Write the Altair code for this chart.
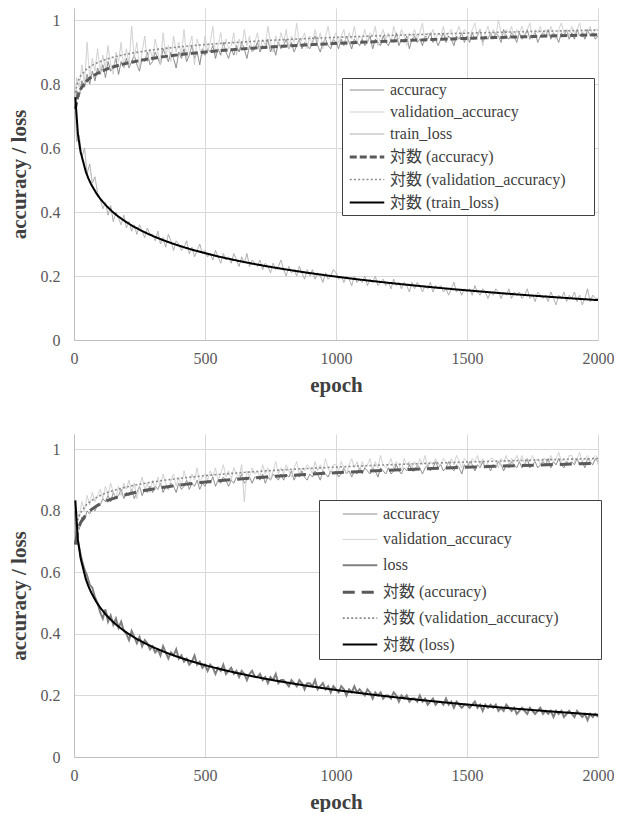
import altair as alt
import pandas as pd

# epochs (x positions of the sampled points)
epochs = [5] + list(range(10, 2001, 10))

# ---------------- top panel ----------------
acc_top = [
    0.73, 0.78, 0.76, 0.81, 0.79, 0.83, 0.80, 0.84, 0.81, 0.85,
    0.83, 0.86, 0.82, 0.87, 0.84, 0.85, 0.88, 0.83, 0.87, 0.85,
    0.88, 0.85, 0.87, 0.89, 0.86, 0.84, 0.88, 0.87, 0.90, 0.86,
    0.87, 0.90, 0.88, 0.86, 0.91, 0.89, 0.87, 0.90, 0.88, 0.85,
    0.90, 0.88, 0.91, 0.87, 0.89, 0.92, 0.88, 0.90, 0.86, 0.91,
    0.89, 0.91, 0.90, 0.92, 0.88, 0.91, 0.89, 0.93, 0.90, 0.88,
    0.91, 0.89, 0.92, 0.90, 0.93, 0.91, 0.88, 0.92, 0.90, 0.91,
    0.93, 0.90, 0.92, 0.91, 0.94, 0.90, 0.92, 0.89, 0.93, 0.91,
    0.92, 0.94, 0.91, 0.93, 0.90, 0.92, 0.94, 0.91, 0.93, 0.92,
    0.91, 0.93, 0.95, 0.92, 0.90, 0.93, 0.94, 0.92, 0.91, 0.94,
    0.93, 0.91, 0.94, 0.92, 0.95, 0.93, 0.91, 0.94, 0.93, 0.92,
    0.94, 0.92, 0.93, 0.95, 0.91, 0.94, 0.93, 0.92, 0.95, 0.93,
    0.92, 0.94, 0.93, 0.96, 0.92, 0.94, 0.93, 0.95, 0.91, 0.94,
    0.95, 0.93, 0.94, 0.92, 0.95, 0.94, 0.96, 0.93, 0.94, 0.92,
    0.94, 0.96, 0.93, 0.95, 0.94, 0.92, 0.95, 0.94, 0.96, 0.93,
    0.95, 0.93, 0.96, 0.94, 0.95, 0.97, 0.93, 0.95, 0.94, 0.96,
    0.94, 0.96, 0.95, 0.93, 0.97, 0.95, 0.94, 0.96, 0.95, 0.93,
    0.96, 0.94, 0.95, 0.97, 0.94, 0.95, 0.96, 0.93, 0.95, 0.96,
    0.95, 0.97, 0.94, 0.96, 0.95, 0.93, 0.96, 0.95, 0.97, 0.94,
    0.96, 0.94, 0.97, 0.95, 0.96, 0.94, 0.97, 0.95, 0.96, 0.94,
    0.95,
]
val_top = [
    0.76, 0.82, 0.79, 0.86, 0.80, 0.93, 0.82, 0.88, 0.84, 0.91,
    0.84, 0.89, 0.85, 0.92, 0.86, 0.83, 0.90, 0.87, 0.93, 0.85,
    0.91, 0.86, 0.98, 0.88, 0.93, 0.85, 0.90, 0.95, 0.87, 0.91,
    0.88, 0.94, 0.90, 0.86, 0.96, 0.89, 0.92, 0.87, 0.95, 0.90,
    0.93, 0.89, 0.97, 0.88, 0.92, 0.95, 0.86, 0.94, 0.91, 0.89,
    0.95, 0.90, 0.93, 0.98, 0.89, 0.92, 0.96, 0.90, 0.94, 0.91,
    0.92, 0.96, 0.89, 0.94, 0.91, 0.97, 0.92, 0.95, 0.90, 0.93,
    0.96, 0.91, 0.94, 0.92, 0.98, 0.93, 0.90, 0.95, 0.92, 0.96,
    0.93, 0.97, 0.91, 0.95, 0.93, 0.99, 0.92, 0.94, 0.96, 0.91,
    0.95, 0.92, 0.97, 0.93, 0.96, 0.91, 0.95, 0.98, 0.93, 0.94,
    0.96, 0.93, 0.95, 0.97, 0.92, 0.96, 0.94, 0.98, 0.93, 0.95,
    0.94, 0.97, 0.93, 0.96, 0.95, 0.98, 0.92, 0.95, 0.97, 0.94,
    0.96, 0.93, 0.98, 0.95, 0.94, 0.97, 0.95, 0.92, 0.96, 0.95,
    0.97, 0.94, 0.96, 0.99, 0.93, 0.96, 0.95, 0.97, 0.94, 0.96,
    0.95, 0.98, 0.94, 0.96, 0.97, 0.93, 0.96, 0.98, 0.95, 0.97,
    0.96, 0.94, 0.97, 0.99, 0.95, 0.97, 0.92, 0.96, 0.98, 0.95,
    0.97, 0.95, 1.00, 0.96, 0.94, 0.97, 0.96, 0.98, 0.94, 0.97,
    0.96, 0.98, 0.95, 0.97, 0.99, 0.94, 0.97, 0.96, 0.98, 0.95,
    0.97, 0.95, 0.98, 0.96, 0.94, 0.97, 0.99, 0.96, 0.97, 0.95,
    0.98, 0.96, 0.97, 0.99, 0.95, 0.97, 0.96, 0.98, 0.95, 0.97,
    0.97,
]
loss_top = [
    0.72, 0.62, 0.64, 0.57, 0.60, 0.52, 0.55, 0.49, 0.51, 0.46,
    0.44, 0.41, 0.43, 0.39, 0.42, 0.37, 0.40, 0.38, 0.36, 0.39,
    0.35, 0.37, 0.34, 0.36, 0.33, 0.36, 0.34, 0.32, 0.35, 0.33,
    0.33, 0.31, 0.34, 0.30, 0.32, 0.29, 0.33, 0.31, 0.28, 0.31,
    0.30, 0.28, 0.29, 0.31, 0.27, 0.29, 0.26, 0.28, 0.30, 0.27,
    0.28, 0.26, 0.27, 0.25, 0.28, 0.26, 0.24, 0.27, 0.25, 0.26,
    0.24, 0.27, 0.25, 0.23, 0.26, 0.24, 0.27, 0.23, 0.25, 0.24,
    0.23, 0.25, 0.22, 0.24, 0.23, 0.21, 0.24, 0.22, 0.23, 0.25,
    0.22, 0.20, 0.23, 0.21, 0.22, 0.20, 0.23, 0.21, 0.19, 0.22,
    0.20, 0.22, 0.19, 0.21, 0.20, 0.18, 0.21, 0.19, 0.20, 0.22,
    0.21, 0.19, 0.20, 0.18, 0.20, 0.19, 0.17, 0.20, 0.18, 0.19,
    0.18, 0.20, 0.17, 0.19, 0.18, 0.20, 0.17, 0.18, 0.19, 0.17,
    0.18, 0.16, 0.19, 0.17, 0.18, 0.16, 0.18, 0.17, 0.15, 0.18,
    0.16, 0.18, 0.17, 0.15, 0.17, 0.16, 0.18, 0.15, 0.17, 0.16,
    0.17, 0.15, 0.16, 0.14, 0.16, 0.18, 0.15, 0.16, 0.14, 0.16,
    0.15, 0.16, 0.14, 0.17, 0.15, 0.14, 0.16, 0.15, 0.13, 0.15,
    0.14, 0.16, 0.15, 0.13, 0.15, 0.14, 0.16, 0.13, 0.15, 0.14,
    0.15, 0.13, 0.14, 0.16, 0.13, 0.14, 0.12, 0.15, 0.14, 0.13,
    0.14, 0.12, 0.15, 0.13, 0.11, 0.14, 0.13, 0.15, 0.12, 0.14,
    0.13, 0.15, 0.12, 0.14, 0.11, 0.13, 0.16, 0.12, 0.14, 0.13,
    0.13,
]

# ---------------- bottom panel ----------------
acc_bot = [
    0.69, 0.76, 0.74, 0.78, 0.77, 0.80, 0.79, 0.81, 0.80, 0.82,
    0.82, 0.84, 0.83, 0.85, 0.83, 0.86, 0.84, 0.85, 0.87, 0.84,
    0.86, 0.85, 0.87, 0.84, 0.86, 0.88, 0.85, 0.87, 0.86, 0.88,
    0.86, 0.88, 0.87, 0.89, 0.86, 0.88, 0.87, 0.89, 0.88, 0.86,
    0.89, 0.87, 0.88, 0.90, 0.87, 0.89, 0.88, 0.90, 0.87, 0.89,
    0.88, 0.90, 0.89, 0.91, 0.88, 0.90, 0.89, 0.91, 0.90, 0.88,
    0.90, 0.89, 0.91, 0.90, 0.92, 0.89, 0.90, 0.91, 0.89, 0.91,
    0.91, 0.90, 0.92, 0.89, 0.91, 0.90, 0.92, 0.91, 0.90, 0.92,
    0.90, 0.92, 0.91, 0.93, 0.90, 0.92, 0.91, 0.93, 0.91, 0.90,
    0.92, 0.91, 0.93, 0.92, 0.90, 0.93, 0.92, 0.91, 0.93, 0.92,
    0.93, 0.91, 0.92, 0.94, 0.92, 0.93, 0.91, 0.93, 0.92, 0.94,
    0.92, 0.94, 0.93, 0.92, 0.94, 0.93, 0.91, 0.94, 0.93, 0.92,
    0.94, 0.92, 0.93, 0.95, 0.93, 0.92, 0.94, 0.93, 0.95, 0.93,
    0.93, 0.95, 0.94, 0.92, 0.94, 0.95, 0.93, 0.94, 0.96, 0.94,
    0.95, 0.93, 0.94, 0.96, 0.94, 0.93, 0.95, 0.94, 0.92, 0.95,
    0.94, 0.96, 0.95, 0.93, 0.95, 0.94, 0.96, 0.94, 0.95, 0.93,
    0.95, 0.94, 0.96, 0.95, 0.93, 0.95, 0.94, 0.96, 0.95, 0.94,
    0.96, 0.94, 0.95, 0.97, 0.94, 0.95, 0.96, 0.94, 0.95, 0.96,
    0.95, 0.97, 0.94, 0.96, 0.95, 0.97, 0.95, 0.94, 0.96, 0.95,
    0.96, 0.95, 0.97, 0.95, 0.96, 0.94, 0.97, 0.96, 0.95, 0.97,
    0.96,
]
val_bot = [
    0.71, 0.80, 0.78, 0.83, 0.80, 0.85, 0.82, 0.86, 0.83, 0.85,
    0.87, 0.84, 0.88, 0.85, 0.89, 0.86, 0.84, 0.88, 0.85, 0.89,
    0.87, 0.90, 0.86, 0.89, 0.84, 0.88, 0.91, 0.87, 0.89, 0.86,
    0.90, 0.87, 0.91, 0.88, 0.92, 0.89, 0.87, 0.90, 0.92, 0.88,
    0.91, 0.88, 0.93, 0.90, 0.89, 0.92, 0.90, 0.94, 0.89, 0.91,
    0.92, 0.90, 0.93, 0.91, 0.94, 0.90, 0.92, 0.95, 0.91, 0.93,
    0.90, 0.94, 0.92, 0.91, 0.95, 0.83, 0.93, 0.91, 0.94, 0.92,
    0.93, 0.91, 0.95, 0.92, 0.94, 0.90, 0.93, 0.96, 0.92, 0.94,
    0.92, 0.95, 0.93, 0.91, 0.94, 0.96, 0.92, 0.94, 0.93, 0.95,
    0.94, 0.92, 0.96, 0.93, 0.95, 0.93, 0.97, 0.94, 0.92, 0.95,
    0.95, 0.93, 0.96, 0.94, 0.92, 0.95, 0.97, 0.94, 0.96, 0.93,
    0.96, 0.94, 0.95, 0.97, 0.93, 0.96, 0.94, 0.98, 0.95, 0.94,
    0.95, 0.97, 0.94, 0.96, 0.95, 0.93, 0.97, 0.95, 0.96, 0.94,
    0.96, 0.94, 0.97, 0.95, 0.98, 0.94, 0.96, 0.95, 0.97, 0.95,
    0.95, 0.97, 0.96, 0.94, 0.97, 0.95, 0.98, 0.96, 0.94, 0.97,
    0.96, 0.95, 0.97, 0.96, 0.98, 0.95, 0.97, 0.94, 0.96, 0.97,
    0.97, 0.96, 0.94, 0.97, 0.96, 0.98, 0.95, 0.97, 0.96, 0.98,
    0.96, 0.98, 0.95, 0.97, 0.96, 0.98, 0.96, 0.97, 0.95, 0.97,
    0.97, 0.95, 0.98, 0.96, 0.97, 0.99, 0.96, 0.97, 0.95, 0.98,
    0.98, 0.96, 0.97, 0.99, 0.96, 0.97, 0.98, 0.96, 0.97, 0.98,
    0.97,
]
loss_bot = [
    0.80, 0.71, 0.68, 0.64, 0.61, 0.59, 0.56, 0.55, 0.52, 0.50,
    0.47, 0.45, 0.48, 0.44, 0.46, 0.43, 0.45, 0.42, 0.44, 0.41,
    0.40, 0.38, 0.41, 0.39, 0.37, 0.39, 0.36, 0.38, 0.37, 0.35,
    0.36, 0.34, 0.35, 0.33, 0.36, 0.34, 0.32, 0.34, 0.33, 0.35,
    0.32, 0.33, 0.31, 0.32, 0.30, 0.31, 0.33, 0.30, 0.31, 0.29,
    0.30, 0.28, 0.30, 0.29, 0.27, 0.29, 0.28, 0.30, 0.27, 0.28,
    0.29, 0.27, 0.28, 0.26, 0.28, 0.27, 0.25, 0.27, 0.28, 0.26,
    0.26, 0.27, 0.25, 0.26, 0.24, 0.26, 0.25, 0.27, 0.24, 0.25,
    0.25, 0.24, 0.23, 0.25, 0.24, 0.23, 0.25, 0.24, 0.22, 0.24,
    0.24, 0.23, 0.25, 0.22, 0.23, 0.24, 0.22, 0.23, 0.21, 0.23,
    0.22, 0.21, 0.23, 0.22, 0.20, 0.22, 0.21, 0.23, 0.21, 0.22,
    0.21, 0.20, 0.22, 0.21, 0.19, 0.21, 0.20, 0.21, 0.19, 0.20,
    0.20, 0.19, 0.21, 0.20, 0.18, 0.20, 0.19, 0.20, 0.18, 0.19,
    0.19, 0.18, 0.20, 0.18, 0.19, 0.17, 0.18, 0.19, 0.17, 0.18,
    0.18, 0.17, 0.19, 0.17, 0.18, 0.16, 0.18, 0.17, 0.16, 0.17,
    0.17, 0.16, 0.17, 0.18, 0.16, 0.17, 0.15, 0.17, 0.16, 0.17,
    0.16, 0.17, 0.15, 0.16, 0.15, 0.17, 0.16, 0.15, 0.16, 0.14,
    0.15, 0.16, 0.15, 0.14, 0.16, 0.15, 0.14, 0.15, 0.16, 0.14,
    0.15, 0.14, 0.15, 0.13, 0.15, 0.14, 0.15, 0.13, 0.14, 0.15,
    0.14, 0.13, 0.15, 0.14, 0.13, 0.14, 0.12, 0.14, 0.13, 0.14,
    0.13,
]

x_ticks = [0, 500, 1000, 1500, 2000]
y_ticks = [0, 0.2, 0.4, 0.6, 0.8, 1.0]

SERIF = "'Liberation Serif', 'Noto Sans CJK JP', serif"
BLANK = "\u2800"


def long_df(acc, val, loss, loss_name):
    rows = []
    for name, vals in (("accuracy", acc), ("validation_accuracy", val), (loss_name, loss)):
        for e, v in zip(epochs, vals):
            rows.append({"epoch": e, "value": v, "label": name})
    return pd.DataFrame(rows)


def panel(acc, val, loss, loss_name, height, ymax, lx, ly, loss_color, loss_width,
          acc_dash, row_pad, sym_off, pad, n_blank):
    df = long_df(acc, val, loss, loss_name)
    labels = ["accuracy", "validation_accuracy", loss_name,
              "対数 (accuracy)", "対数 (validation_accuracy)", f"対数 ({loss_name})"]
    colors = ["#808080", "#cdcdcd", loss_color, "#595959", "#8c8c8c", "#000000"]
    widths = [1, 1, loss_width, 3, 1.6, 2]
    dashes = [[1, 0], [1, 0], [1, 0], acc_dash, [2, 2.2], [1, 0]]

    legend = alt.Legend(
        title=None, orient="none", legendX=lx, legendY=ly,
        symbolType="M-2.3,0H2.3", symbolSize=225, symbolOffset=sym_off,
        labelOffset=14, labelFont=SERIF, labelFontSize=16, labelColor="#404040",
        labelLimit=400, rowPadding=row_pad, padding=pad,
        fillColor="white", strokeColor="#404040",
        labelExpr=f"datum.label + '{BLANK * n_blank}'",
    )
    color = alt.Color("label:N", scale=alt.Scale(domain=labels, range=colors), legend=legend)
    sw = alt.StrokeWidth("label:N", scale=alt.Scale(type="ordinal", domain=labels, range=widths), legend=legend)
    sd = alt.StrokeDash("label:N", scale=alt.Scale(domain=labels, range=dashes), legend=legend)
    x = alt.X("epoch:Q", scale=alt.Scale(domain=[0, 2000], nice=False, zero=False),
              axis=alt.Axis(values=x_ticks, format="d", labelFlush=False, title="epoch",
                            labelPadding=10, titlePadding=8))
    y = alt.Y("value:Q", scale=alt.Scale(domain=[0, ymax], nice=False),
              axis=alt.Axis(values=y_ticks, format=".1~f", title="accuracy / loss",
                            labelPadding=14, titlePadding=11))

    base = alt.Chart(df)
    raw = base.mark_line().encode(x=x, y=y, color=color, strokeWidth=sw, strokeDash=sd,
                                  order=alt.Order("epoch:Q"))
    trend = (
        base.transform_regression("epoch", "value", method="log", groupby=["label"])
        .transform_calculate(label="'対数 (' + datum.label + ')'")
        .mark_line()
        .encode(x=x, y=y, color=color, strokeWidth=sw, strokeDash=sd)
    )
    return alt.layer(raw, trend).properties(width=524, height=height)


top = panel(acc_top, val_top, loss_top, "train_loss", 332, 1.0375, 268, 70,
            "#a6a6a6", 1, [7, 3], 6.0, 12, 4, 2)
bottom = panel(acc_bot, val_bot, loss_bot, "loss", 323, 1.05, 245, 66,
               "#808080", 2, [12, 7], 9.4, 26, 6, 3)

chart = (
    alt.vconcat(top, bottom, spacing=39)
    .resolve_scale(color="independent", strokeWidth="independent", strokeDash="independent")
    .resolve_legend(color="independent", strokeWidth="independent", strokeDash="independent")
    .properties(padding=0)
    .configure_view(stroke=None)
    .configure_axis(
        domainColor="#bfbfbf", gridColor="#d9d9d9", ticks=False,
        labelFont=SERIF, labelFontSize=16, labelColor="#595959",
        titleFont=SERIF, titleFontSize=21, titleFontWeight="bold", titleColor="#404040",
    )
)

chart.save("out.html", embed_options={"renderer": "svg", "actions": False})
